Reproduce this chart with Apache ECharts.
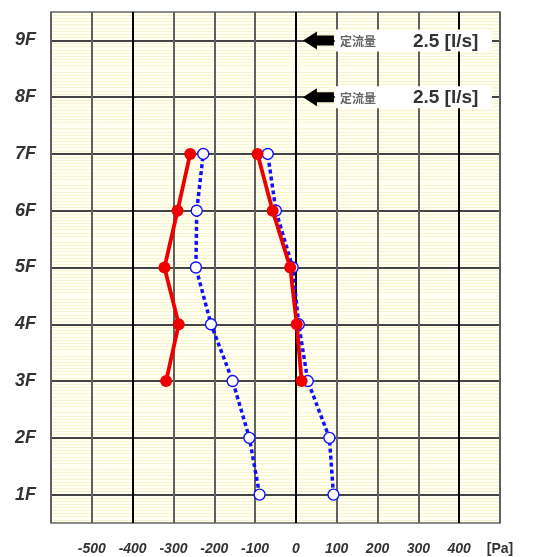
<!DOCTYPE html>
<html><head><meta charset="utf-8">
<script src="https://cdn.jsdelivr.net/npm/echarts@6/dist/echarts.min.js"></script>
<style>html,body{margin:0;padding:0;background:#fff}#c{width:533px;height:557px}</style>
</head><body><div id="c"></div>
<script>
// Floors (y) and pressure values [Pa] (x)
const redLeftFloors = [3, 4, 5, 6, 7];
const redLeftValues = [-318, -287, -322, -290, -259];
const redRightFloors = [3, 4, 5, 6, 7];
const redRightValues = [14, 2, -14, -57, -94];
const blueLeftFloors = [1, 2, 3, 4, 5, 6, 7];
const blueLeftValues = [-89, -114, -155, -208, -245, -243, -227];
const blueRightFloors = [1, 2, 3, 4, 5, 6, 7];
const blueRightValues = [92, 82, 29, 7, -8, -49, -69];
// Constant-flow annotations
const flowFloors = [9, 8];
const flowValues = [2.5, 2.5];
const flowLabel = '定流量';
const flowUnit = '[l/s]';
const xUnit = '[Pa]';

const zip = (xs, ys) => xs.map((x, i) => [x, ys[i]]);

const chart = echarts.init(document.getElementById('c'));
const FONT = '"Liberation Sans", Arial, sans-serif';

const redStyle = {
  type: 'line', symbol: 'circle', symbolSize: 12,
  lineStyle: { color: '#ee0000', width: 3.8 },
  itemStyle: { color: '#ee0000' },
  z: 5, silent: true, animation: false
};
const blueStyle = {
  type: 'line', symbol: 'circle', symbolSize: 11,
  lineStyle: { color: '#1010ff', width: 3.5, type: [4, 3] },
  itemStyle: { color: '#ffffff', borderColor: '#1010ff', borderWidth: 1.4 },
  z: 4, silent: true, animation: false
};

chart.setOption({
  animation: false,
  backgroundColor: '#ffffff',
  grid: { left: 51, top: 12, width: 449, height: 511, show: true,
    backgroundColor: '#fffff2', borderColor: '#666', borderWidth: 1.5 },
  xAxis: {
    type: 'value', min: -600, max: 500, interval: 100,
    axisLine: { show: false }, axisTick: { show: false },
    splitLine: { show: true, lineStyle: { color: ['#606060', '#606060', '#000000', '#606060'], width: 2 } },
    axisLabel: {
      margin: 19, showMinLabel: true, showMaxLabel: true,
      color: '#333', fontFamily: FONT, fontSize: 14, fontWeight: 'bold', fontStyle: 'italic',
      formatter: v => v === -600 ? '' : (v === 500 ? '{u|' + xUnit + '}' : '{i|' + v + '}'),
      rich: {
        i: { fontFamily: FONT, fontSize: 14, fontWeight: 'bold', fontStyle: 'italic', color: '#333' },
        u: { fontFamily: FONT, fontSize: 14, fontWeight: 'bold', fontStyle: 'normal', color: '#333' }
      }
    }
  },
  yAxis: {
    type: 'value', min: 0.5, max: 9.5, interval: 0.5,
    axisLine: { show: false }, axisTick: { show: false },
    splitLine: { show: true, lineStyle: { color: ['rgba(0,0,0,0)', '#444'], width: 2 } },
    minorTick: { show: false, splitNumber: 9 },
    minorSplitLine: { show: true, lineStyle: { color: '#f7f4cf', width: 1 } },
    axisLabel: {
      margin: 15, color: '#333', fontFamily: FONT, fontSize: 18, fontWeight: 'bold', fontStyle: 'italic',
      formatter: v => Number.isInteger(v) ? v + 'F' : ''
    }
  },
  series: [
    Object.assign({ data: zip(blueLeftValues, blueLeftFloors) }, blueStyle),
    Object.assign({ data: zip(blueRightValues, blueRightFloors) }, blueStyle),
    Object.assign({ data: zip(redLeftValues, redLeftFloors) }, redStyle),
    Object.assign({ data: zip(redRightValues, redRightFloors) }, redStyle),
    {
      type: 'custom', z: 6, silent: true, clip: false, animation: false,
      data: flowFloors.map((f, i) => [0, f, flowValues[i]]),
      renderItem: (params, api) => {
        const p = api.coord([api.value(0), api.value(1)]);
        const x0 = p[0], y0 = p[1];
        return {
          type: 'group',
          children: [
            { type: 'rect', shape: { x: x0 + 39, y: y0 - 11, width: 157, height: 22 },
              style: { fill: '#ffffff' } },
            { type: 'polygon', shape: { points: [
                [x0 + 7, y0], [x0 + 21, y0 - 9], [x0 + 21, y0 - 5], [x0 + 38, y0 - 5],
                [x0 + 38, y0 + 5], [x0 + 21, y0 + 5], [x0 + 21, y0 + 9]] },
              style: { fill: '#000' } },
            { type: 'text', x: x0 + 44, y: y0 + 1,
              style: { text: flowLabel, fill: '#666', font: 'bold 12px "Noto Sans CJK JP", sans-serif',
                verticalAlign: 'middle', align: 'left' } },
            { type: 'text', x: x0 + 117, y: y0 + 1,
              style: { text: api.value(2).toFixed(1) + ' ' + flowUnit, fill: '#333',
                font: 'bold 19px "Liberation Sans", Arial, sans-serif',
                verticalAlign: 'middle', align: 'left' } }
          ]
        };
      }
    }
  ]
});
</script></body></html>
